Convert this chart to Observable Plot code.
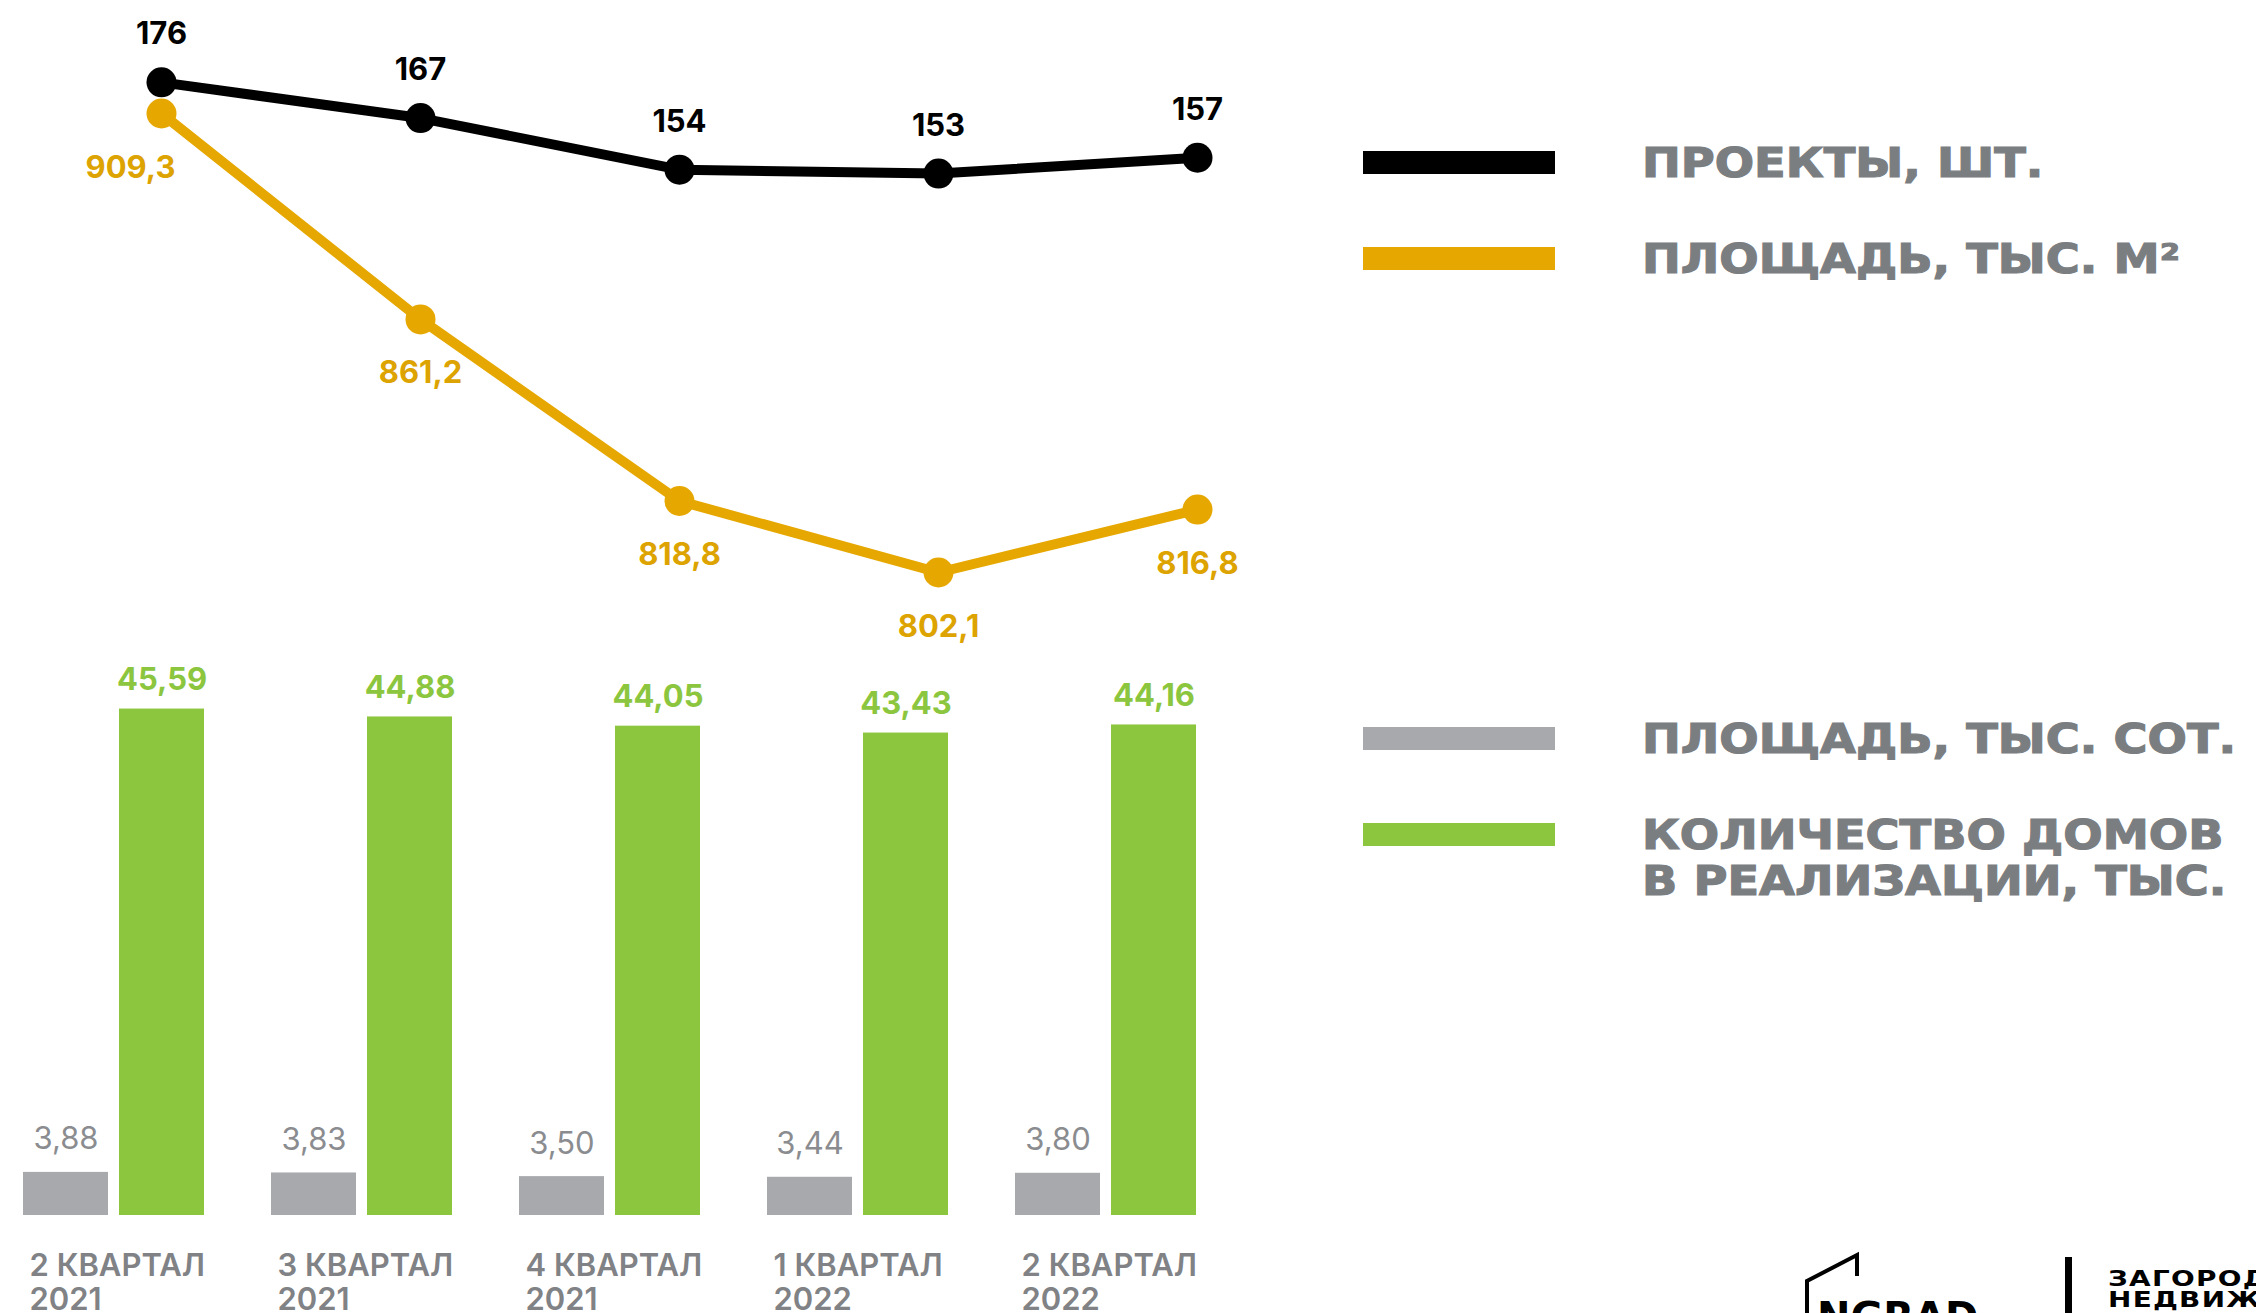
<!DOCTYPE html>
<html>
<head>
<meta charset="utf-8">
<script src="https://cdn.jsdelivr.net/npm/d3@7"></script>
<script src="https://cdn.jsdelivr.net/npm/@observablehq/plot@0.6"></script>
<style>
  html, body { margin: 0; padding: 0; background: #fff; }
  #page { position: relative; width: 2256px; height: 1313px; overflow: hidden; background: #fff; }
  .abs { position: absolute; }
  .abs svg { background: transparent; overflow: visible; }
  .swatch { position: absolute; left: 1363px; width: 192px; height: 23px; }
  .legend-text { position: absolute; left: 1642px; font-family: "DejaVu Sans", sans-serif; font-weight: bold;
    font-size: 41px; letter-spacing: 0px; color: #7b7e81; line-height: 46px; white-space: pre;
    -webkit-text-stroke: 1.2px #7b7e81;
    transform: scaleX(1.13); transform-origin: 0 0; }
</style>
</head>
<body>
<div id="page"></div>
<script>
// ---------- data ----------
const quarters = ["2 КВАРТАЛ\n2021", "3 КВАРТАЛ\n2021", "4 КВАРТАЛ\n2021", "1 КВАРТАЛ\n2022", "2 КВАРТАЛ\n2022"];
const projects = [176, 167, 154, 153, 157];          // проекты, шт.
const areaM2 = [909.3, 861.2, 818.8, 802.1, 816.8];  // площадь, тыс. м²
const areaSot = [3.88, 3.83, 3.50, 3.44, 3.80];      // площадь, тыс. сот.
const houses = [45.59, 44.88, 44.05, 43.43, 44.16];  // количество домов в реализации, тыс.
const seriesKeys = ["sot", "houses"];
const legendLabels = ["ПРОЕКТЫ, ШТ.", "ПЛОЩАДЬ, ТЫС. М²", "ПЛОЩАДЬ, ТЫС. СОТ.", "КОЛИЧЕСТВО ДОМОВ\nВ РЕАЛИЗАЦИИ, ТЫС."];

// ---------- styles ----------
const BLACK = "#000000", YELLOW = "#E6A800", YELLOW_TXT = "#DDA300", GREEN = "#8CC63F", GRAY = "#A7A9AC", GRAY_TXT = "#808285";
const legendColors = [BLACK, YELLOW, GRAY, GREEN];
const FONT = "Inter, Roboto, sans-serif";

const fmt1 = v => d3.format(".1f")(v).replace(".", ",");
const fmt2 = v => d3.format(".2f")(v).replace(".", ",");

const lineRows = quarters.map((q, i) => ({q, projects: projects[i], area: areaM2[i]}));
const barRows = quarters.flatMap((q, i) => [
  {q, series: "sot", value: areaSot[i]},
  {q, series: "houses", value: houses[i]}
]);

const page = document.getElementById("page");
function place(node, left, top) {
  const d = document.createElement("div");
  d.className = "abs";
  d.style.left = left + "px";
  d.style.top = top + "px";
  d.appendChild(node);
  page.appendChild(d);
}

const xLine = {type: "point", domain: quarters, range: [160, 1197], padding: 0, axis: null};

// ---------- black line: projects ----------
const projPlot = Plot.plot({
  width: 1300, height: 700,
  style: {background: "transparent", overflow: "visible", fontFamily: FONT},
  x: xLine,
  y: {domain: [150, 180], range: [185, 66], axis: null},
  marks: [
    Plot.line(lineRows, {x: "q", y: "projects", stroke: BLACK, strokeWidth: 10, strokeLinejoin: "round"}),
    Plot.dot(lineRows, {x: "q", y: "projects", r: 15, fill: BLACK}),
    Plot.text(lineRows, {x: "q", y: "projects", text: d => String(d.projects), lineAnchor: "bottom", dy: -38,
      fill: BLACK, fontSize: 31, fontWeight: 700, fontFamily: FONT})
  ]
});

// ---------- yellow line: area m² ----------
const areaPlot = Plot.plot({
  width: 1300, height: 700,
  style: {background: "transparent", overflow: "visible", fontFamily: FONT},
  x: xLine,
  y: {domain: [800, 910], range: [581, 110], axis: null},
  marks: [
    Plot.line(lineRows, {x: "q", y: "area", stroke: YELLOW, strokeWidth: 10, strokeLinejoin: "round"}),
    Plot.dot(lineRows, {x: "q", y: "area", r: 15, fill: YELLOW}),
    Plot.text(lineRows.slice(0, 1), {x: "q", y: "area", text: d => fmt1(d.area), lineAnchor: "top", dy: 42, dx: -31,
      fill: YELLOW_TXT, fontSize: 31, fontWeight: 700, fontFamily: FONT}),
    Plot.text(lineRows.slice(1), {x: "q", y: "area", text: d => fmt1(d.area), lineAnchor: "top", dy: 42,
      fill: YELLOW_TXT, fontSize: 31, fontWeight: 700, fontFamily: FONT})
  ]
});

// ---------- bars ----------
const barPlot = Plot.plot({
  width: 1300, height: 693,
  marginLeft: 21, marginRight: 101, marginTop: 84, marginBottom: 98,
  style: {background: "transparent", overflow: "visible", fontFamily: FONT},
  fx: {domain: quarters, paddingInner: 0.265, paddingOuter: 0, axis: null, label: null},
  x: {domain: seriesKeys, paddingInner: 0.113, paddingOuter: 0, axis: null},
  y: {domain: [0, 46], axis: null},
  color: {domain: seriesKeys, range: [GRAY, GREEN]},
  marks: [
    Plot.barY(barRows, {fx: "q", x: "series", y: "value", fill: "series"}),
    Plot.text(barRows.filter(d => d.series === "houses"), {fx: "q", x: "series", y: "value", text: d => fmt2(d.value),
      lineAnchor: "bottom", dy: -19, fill: GREEN, fontSize: 31, fontWeight: 700, fontFamily: FONT}),
    Plot.text(barRows.filter(d => d.series === "sot"), {fx: "q", x: "series", y: "value", text: d => fmt2(d.value),
      lineAnchor: "bottom", dy: -23, fill: "#8A8C8F", fontSize: 31, fontWeight: 400, fontFamily: FONT}),
    Plot.axisFx({anchor: "bottom", label: null, tickSize: 0, tickPadding: 36, textAnchor: "start", dx: -85,
      fontSize: 31, fontWeight: 600, lineHeight: 1.1, color: GRAY_TXT, fontFamily: FONT})
  ]
});

place(barPlot, 0, 620);
place(areaPlot, 0, 0);
place(projPlot, 0, 0);

// ---------- legend ----------
const swatchTops = [151, 247, 727, 823];
legendLabels.forEach((label, i) => {
  const sw = document.createElement("div");
  sw.className = "swatch";
  sw.style.top = swatchTops[i] + "px";
  sw.style.background = legendColors[i];
  page.appendChild(sw);
  const t = document.createElement("div");
  t.className = "legend-text";
  t.style.top = (swatchTops[i] + 11.5 - 23) + "px";
  t.textContent = label;
  page.appendChild(t);
});

// ---------- logo (decorative) ----------
const logo = document.createElement("div");
logo.className = "abs";
logo.style.left = "1780px";
logo.style.top = "1233px";
logo.innerHTML = `
<svg width="476" height="80" xmlns="http://www.w3.org/2000/svg" style="overflow:hidden">
  <polyline points="27,80 27,48 77,22 77,43" fill="none" stroke="#000" stroke-width="4"/>
  <text x="37" y="98" font-family="DejaVu Sans, sans-serif" font-weight="bold" font-size="40">NGRAD</text>
  <rect x="285" y="24" width="7" height="60" fill="#000"/>
  <g transform="translate(328,0) scale(1.27,1)">
    <text x="0" y="53" font-family="DejaVu Sans, sans-serif" font-weight="bold" font-size="22" letter-spacing="1">ЗАГОРОДНАЯ</text>
    <text x="0" y="74" font-family="DejaVu Sans, sans-serif" font-weight="bold" font-size="22" letter-spacing="1">НЕДВИЖИМОСТЬ</text>
  </g>
</svg>`;
page.appendChild(logo);
</script>
</body>
</html>
